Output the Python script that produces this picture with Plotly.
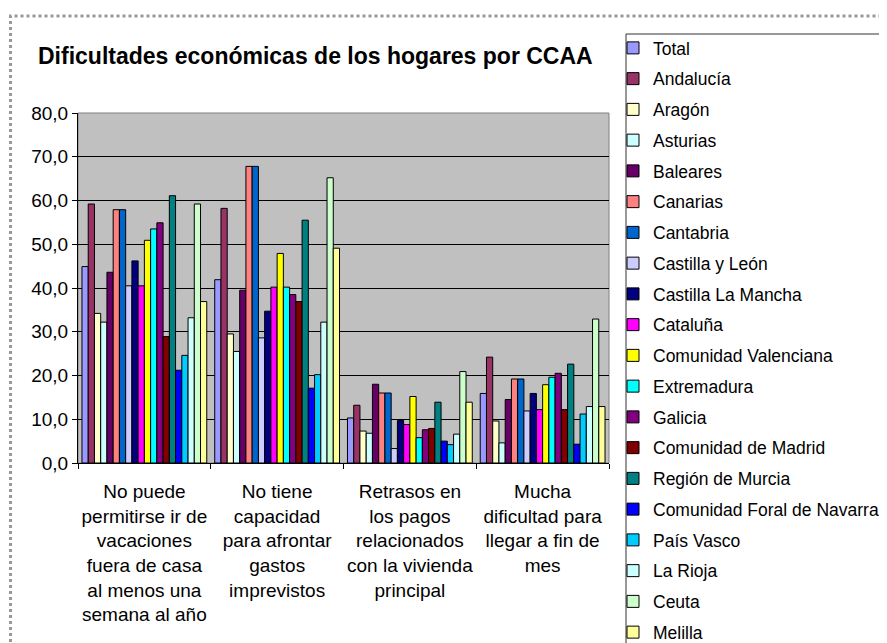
import plotly.graph_objects as go

categories = [
    "No puede<br>permitirse ir de<br>vacaciones<br>fuera de casa<br>al menos una<br>semana al año",
    "No tiene<br>capacidad<br>para afrontar<br>gastos<br>imprevistos",
    "Retrasos en<br>los pagos<br>relacionados<br>con la vivienda<br>principal",
    "Mucha<br>dificultad para<br>llegar a fin de<br>mes",
]

regions = ["Total", "Andalucía", "Aragón", "Asturias", "Baleares", "Canarias",
           "Cantabria", "Castilla y León", "Castilla La Mancha", "Cataluña",
           "Comunidad Valenciana", "Extremadura", "Galicia", "Comunidad de Madrid",
           "Región de Murcia", "Comunidad Foral de Navarra", "País Vasco",
           "La Rioja", "Ceuta", "Melilla"]

values = {
    "Total": [44.9, 41.9, 10.3, 15.9],
    "Andalucía": [59.2, 58.2, 13.2, 24.2],
    "Aragón": [34.2, 29.5, 7.3, 9.6],
    "Asturias": [32.2, 25.5, 6.8, 4.6],
    "Baleares": [43.6, 39.5, 18.0, 14.5],
    "Canarias": [57.9, 67.8, 16.0, 19.2],
    "Cantabria": [57.9, 67.8, 16.0, 19.2],
    "Castilla y León": [40.5, 28.6, 3.3, 11.9],
    "Castilla La Mancha": [46.2, 34.7, 9.7, 15.9],
    "Cataluña": [40.5, 40.2, 8.8, 12.2],
    "Comunidad Valenciana": [50.9, 47.9, 15.2, 17.9],
    "Extremadura": [53.5, 40.2, 5.8, 19.6],
    "Galicia": [54.9, 38.5, 7.6, 20.5],
    "Comunidad de Madrid": [28.9, 36.9, 7.9, 12.2],
    "Región de Murcia": [61.1, 55.5, 13.9, 22.6],
    "Comunidad Foral de Navarra": [21.2, 17.1, 5.0, 4.3],
    "País Vasco": [24.6, 20.2, 4.2, 11.2],
    "La Rioja": [33.2, 32.2, 6.6, 12.9],
    "Ceuta": [59.2, 65.2, 20.9, 32.9],
    "Melilla": [36.9, 49.1, 13.9, 12.9],
}

colors = ["#9999FF", "#993366", "#FFFFCC", "#CCFFFF", "#660066", "#FF8080",
          "#0066CC", "#CCCCFF", "#000080", "#FF00FF", "#FFFF00", "#00FFFF",
          "#800080", "#800000", "#008080", "#0000FF", "#00CCFF", "#CCFFFF",
          "#CCFFCC", "#FFFF99"]

title = "Dificultades económicas de los hogares por CCAA"
FONT = "Liberation Sans, Arial, sans-serif"

OFF = 8  # page body margin
W, H = 887 - OFF, 643 - OFF
# plot area in page coordinates: x 78..609, y 113..463
L = 78 - OFF
T = 113 - OFF
R = W - (609 - OFF)
B = H - (463 - OFF)
PW, PH = W - L - R, H - T - B


def px(x):
    """page x pixel -> paper fraction"""
    return (x - OFF - L) / PW


def py(y):
    """page y pixel -> paper fraction"""
    return (H - B - (y - OFF)) / PH


fig = go.Figure()
for i, name in enumerate(regions):
    fig.add_trace(go.Bar(
        x=categories, y=values[name], name=name, legendgroup=name,
        marker=dict(color=colors[i], line=dict(color="black", width=1)),
    ))

fig.update_layout(
    width=W, height=H,
    margin=dict(l=L, r=R, t=T, b=B, autoexpand=False),
    paper_bgcolor="white", plot_bgcolor="#C0C0C0",
    barmode="group", bargap=0.06, bargroupgap=0,
    font=dict(family=FONT, size=19, color="black"),
    separators=",.",
    showlegend=True,
    legend=dict(
        x=px(613), y=py(30), xanchor="left", yanchor="top",
        xref="paper", yref="paper",
        traceorder="grouped", tracegroupgap=5,
        bgcolor="rgba(0,0,0,0)", borderwidth=0,
        font=dict(family=FONT, size=17.5, color="black"),
        itemwidth=30, maxheight=1000,
    ),
    xaxis=dict(
        showgrid=False, tickson="boundaries", ticks="outside", ticklen=5,
        tickcolor="black", showline=True, linecolor="black", linewidth=1,
        tickfont=dict(family=FONT, size=19), ticklabelstandoff=11,
        tickangle=0, fixedrange=True,
    ),
    yaxis=dict(
        range=[0, 80], dtick=10, tickformat=".1f", showgrid=True,
        gridcolor="black", gridwidth=1, ticks="outside", ticklen=5,
        tickcolor="black", showline=True, linecolor="black", linewidth=1,
        zeroline=False, tickfont=dict(family=FONT, size=19), fixedrange=True,
    ),
    annotations=[dict(
        text="<b>" + title + "</b>", x=px(315), y=py(56), xref="paper", yref="paper",
        xanchor="center", yanchor="middle", showarrow=False,
        font=dict(family=FONT, size=23, color="black"),
    )],
    shapes=[
        # chart frame
        dict(type="rect", xref="paper", yref="paper", x0=px(10.5), y0=py(700),
             x1=px(950), y1=py(16), line=dict(color="#999999", width=3, dash="dot"),
             layer="below"),
        # plot area border (top/right)
        dict(type="rect", xref="paper", yref="paper", x0=0, y0=0, x1=1, y1=1,
             line=dict(color="#808080", width=1), layer="below"),
        # legend box
        dict(type="rect", xref="paper", yref="paper", x0=px(626), y0=py(700),
             x1=px(950), y1=py(34), line=dict(color="#333333", width=1),
             fillcolor="white", layer="below"),
    ],
)

fig.write_html("out.html")
